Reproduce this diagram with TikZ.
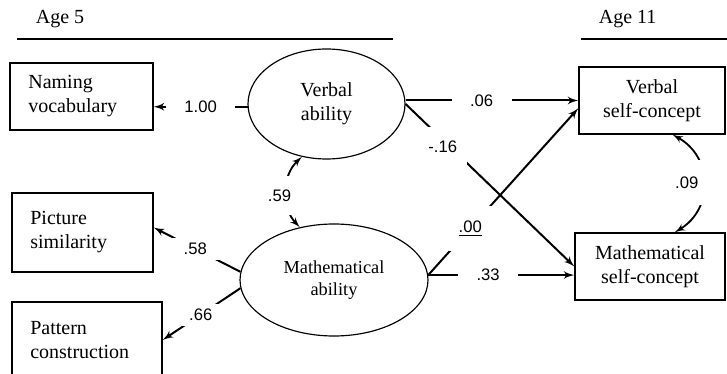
\documentclass[tikz,border=0pt]{standalone}
\usepackage{fontspec}
\setmainfont{Liberation Serif}
\setsansfont{Liberation Sans}
\usetikzlibrary{positioning, shapes.geometric, arrows}

\begin{document}
\begin{tikzpicture}[
    x=0.6pt, y=-0.6pt,
    measure/.style={draw=black, line width=0.8pt, inner xsep=11pt, align=left, font=\fontsize{12}{14.4}\selectfont},
    outcome/.style={draw=black, line width=0.8pt, minimum height=40.2pt, align=center, font=\fontsize{12}{14.4}\selectfont},
    factor/.style={draw=black, line width=0.7pt, ellipse, inner sep=0pt, align=center, font=\fontsize{12}{14.4}\selectfont},
    coef/.style={fill=white, font=\sffamily\fontsize{10}{12}\selectfont, inner xsep=11pt, inner ysep=3pt},
    link/.style={draw, line width=1.2pt, -latex'},
    corr/.style={draw, line width=1.1pt, latex'-latex'},
    rule/.style={line width=1.2pt}
]
\useasboundingbox (0,0) rectangle (727,374);

% Headings
\node[anchor=west, font=\fontsize{12}{14.4}\selectfont] (age5) at (30,19) {Age 5};
\node[anchor=west, font=\fontsize{12}{14.4}\selectfont] (age11) at (593,19) {Age 11};
\draw[rule] (17,39) -- (393,39);
\draw[rule] (581,39) -- (727,39);

% Nodes
\node[measure, text width=63.8pt, minimum height=40.2pt] (namebox) at (81.5,96.5) {Naming\\vocabulary};
\node[measure, text width=62.6pt, minimum height=47.4pt] (picbox) at (82.5,232.5) {Picture\\similarity};
\node[measure, text width=68pt, minimum height=45.6pt] (patbox) at (87,340) {Pattern\\construction};
\node[factor, minimum width=94.2pt, minimum height=66pt] (verbal) at (326.5,104) {Verbal\\ability};
\node[factor, minimum width=112.8pt, minimum height=67.2pt, font=\fontsize{11}{13.5}\selectfont] (math) at (334,280) {Mathematical\\ability};
\node[outcome, minimum width=87.6pt] (vself) at (652,100.5) {Verbal\\self-concept};
\node[outcome, minimum width=90pt] (mself) at (650,266.5) {Mathematical\\self-concept};

% Edges
\draw[link] (verbal.182) -- node[coef]{1.00} (verbal.182 -| namebox.east);
\draw[link] (math.175) -- node[coef, pos=.52]{.58} (picbox.4);
\draw[link] (math.185) -- node[coef, pos=.51]{.66} (patbox.east);
\draw[corr] (verbal.245) to[bend right=45] node[coef, pos=.55, xshift=-4pt, inner xsep=3pt, inner ysep=8pt]{.59} (math.123);
\draw[link] (verbal.east |- vself.west) -- node[coef, pos=.44]{.06} (vself.west);
\draw[link] (verbal.east) -- node[coef, pos=.22, yshift=-4pt, inner xsep=6pt, inner ysep=8pt]{-.16} (mself.west);
\draw[link] (math.3) -- node[coef, pos=.28, inner xsep=6pt, inner ysep=9pt]{\underline{.00}} (vself.186);
\draw[link] (math.3) -- node[coef, pos=.41]{.33} (math.3 -| mself.west);
\draw[corr] (vself.-59) to[bend left=60, looseness=1.2] node[coef, xshift=-10pt, inner xsep=7pt, inner ysep=10pt]{.09} (mself.54);

\end{tikzpicture}
\end{document}
